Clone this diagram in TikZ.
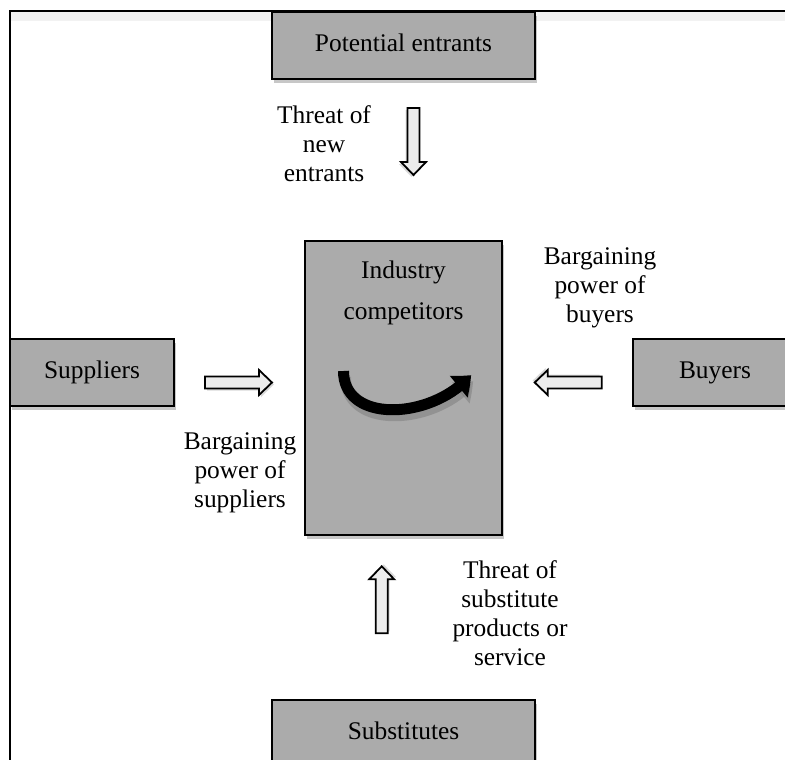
\documentclass[tikz,border=0pt]{standalone}
\usepackage{fontspec}
\setmainfont{Liberation Serif}
\usetikzlibrary{shadows,arrows.meta,bending}
\definecolor{boxgray}{RGB}{171,171,171}
\definecolor{arrowfill}{RGB}{236,236,236}
\newcommand\myfs{\fontsize{25.4}{29}\selectfont}
\newcommand\myfsind{\fontsize{25.4}{41}\selectfont}
\tikzset{
  box/.style={draw=black, line width=2pt, fill=boxgray, inner sep=0pt, font=\myfs,
    text height=17pt, text depth=5pt,
    drop shadow={shadow xshift=1.5pt, shadow yshift=-4pt, opacity=0.22, fill=black}},
  lbl/.style={align=center, inner sep=0pt, font=\myfs, anchor=north},
  harrowstyle/.style={draw=black, line width=1.8pt, fill=arrowfill, line join=miter},
  pics/harrow/.style={code={
    \fill[black, opacity=0.15] (2,-4) -- (56,-4) -- (56,-10.5) -- (69,2) -- (56,14.5) -- (56,8) -- (2,8) -- cycle;
    \filldraw[harrowstyle] (0,-6) -- (54,-6) -- (54,-12.5) -- (67,0) -- (54,12.5) -- (54,6) -- (0,6) -- cycle;}},
  curvearrow/.style={line width=11pt, -{Triangle[length=17pt,width=27pt,bend]}}
}
\begin{document}
\begin{tikzpicture}[x=1pt,y=-1pt]
\useasboundingbox (0,0) rectangle (785,760);
\fill[white] (0,0) rectangle (785,760);
% light strip below frame top
\fill[gray!10] (11,12) rectangle (785,21);

% boxes
\node[box, minimum width=263pt, minimum height=67pt] (pe) at (403.5,45.5) {Potential entrants};
\node[box, minimum width=164pt, minimum height=67pt] (sup) at (92,372.5) {Suppliers};
\node[box, minimum width=164pt, minimum height=67pt] (buy) at (715,372.5) {Buyers};
\node[box, minimum width=263pt, minimum height=67pt] (subst) at (403.5,733.5) {Substitutes};
\node[box, minimum width=197pt, minimum height=294pt] (ind) at (403.5,388) {};
\node[lbl, font=\myfsind] (indtxt) at (403.5,260.7) {Industry\\competitors};

% frame
\draw[line width=2.5pt] (10,760) -- (10,11) -- (785,11);

% labels
\node[lbl] (l1) at (324,105.7) {Threat of\\new\\entrants};
\node[lbl] (l2) at (600,247.7) {Bargaining\\power of\\buyers};
\node[lbl] (l3) at (240,432.7) {Bargaining\\power of\\suppliers};
\node[lbl] (l4) at (510,560.7) {Threat of\\substitute\\products or\\service};

% hollow block arrows
\pic[rotate=-90] (adown) at (413.5,108) {harrow};
\pic (aright) at (205,382.5) {harrow};
\pic[rotate=180] (aleft) at (601.7,382.5) {harrow};
\pic[rotate=90] (aup) at (381.7,633.3) {harrow};

% curved arrow with shadow
\begin{scope}[shift={(2,6)}]
\draw[curvearrow, draw=black!60, opacity=0.35] (343.5,371) .. controls (343.5,424) and (432,420) .. (471,375);
\end{scope}
\draw[curvearrow] (343.5,371) .. controls (343.5,424) and (432,420) .. (471,375);
\end{tikzpicture}
\end{document}
